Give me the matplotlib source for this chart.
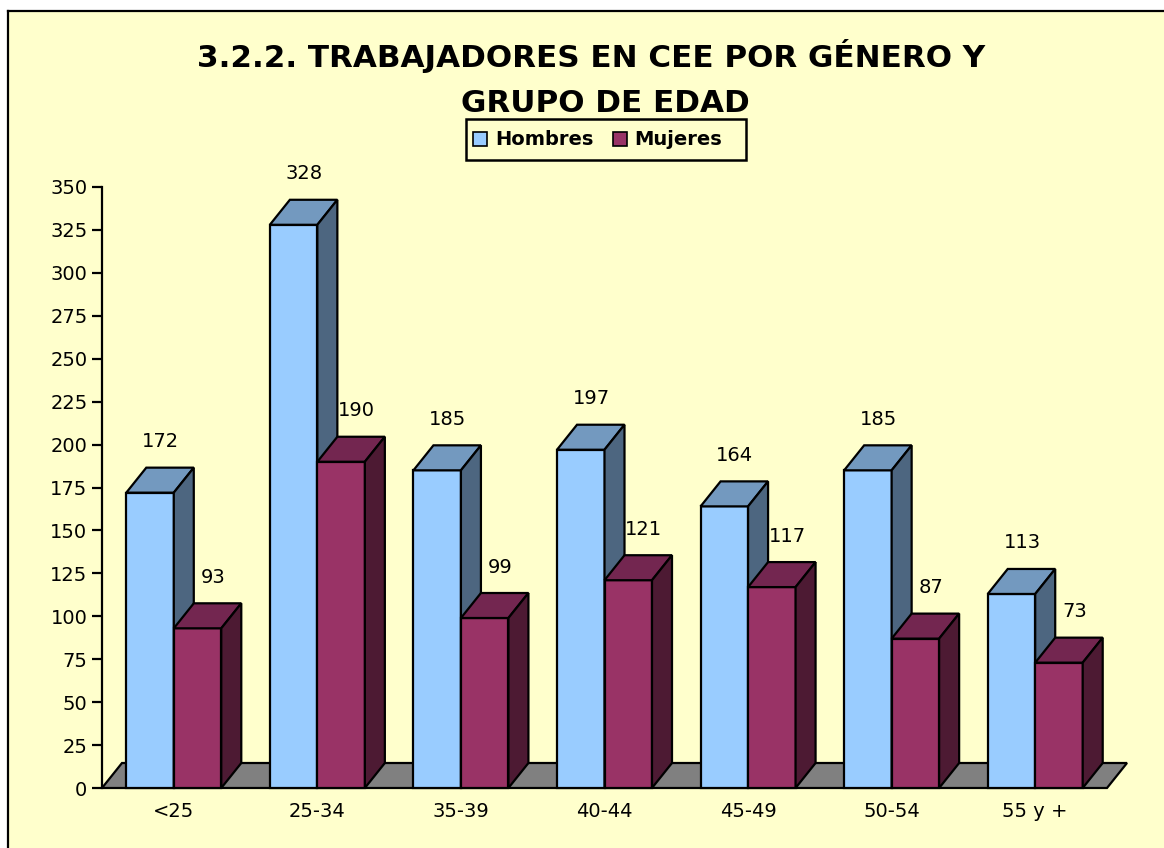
import matplotlib
matplotlib.use("Agg")
import matplotlib.pyplot as plt
from matplotlib.patches import Rectangle, Polygon
from matplotlib.lines import Line2D

categories = ['<25', '25-34', '35-39', '40-44', '45-49', '50-54', '55 y +']
hombres = [172, 328, 185, 197, 164, 185, 113]
mujeres = [93, 190, 99, 121, 117, 87, 73]
series_names = ['Hombres', 'Mujeres']
title_line1 = '3.2.2. TRABAJADORES EN CEE POR GÉNERO Y'
title_line2 = 'GRUPO DE EDAD'
yticks = list(range(0, 351, 25))

W, H = 1164, 848
BG = '#FFFFCC'
C_H = ('#99CCFF', '#7399BF', '#4D6680')   # front, top, side
C_M = ('#993366', '#732650', '#4D1A33')
FLOOR = '#808080'

fig = plt.figure(figsize=(W / 100, H / 100), dpi=100)
fig.patch.set_facecolor('white')


def fx(x):
    return x / W


def fy(y):
    return 1 - y / H


# yellow chart area with left/top frame
fig.patches.append(Rectangle((fx(8), 0), 1, fy(11), transform=fig.transFigure,
                             facecolor=BG, edgecolor='none', zorder=-2))
fig.lines.append(Line2D([fx(8), fx(8)], [0, fy(11)], transform=fig.transFigure,
                        color='black', lw=1.6, zorder=-1))
fig.lines.append(Line2D([fx(8), 1], [fy(11), fy(11)], transform=fig.transFigure,
                        color='black', lw=1.6, zorder=-1))

# plot axes
x0p, x1p, y0p, y1p = 102, 1107, 788, 187
ax = fig.add_axes([fx(x0p), fy(y0p), (x1p - x0p) / W, (y0p - y1p) / H])
ax.set_zorder(1)
ax.set_facecolor('none')
ax.set_xlim(0, len(categories))
ax.set_ylim(0, 350)
for s in ('top', 'right', 'bottom'):
    ax.spines[s].set_visible(False)
ax.spines['left'].set_linewidth(1.6)
ax.set_yticks(yticks)
ax.set_yticklabels([str(v) for v in yticks])
ax.tick_params(axis='y', length=7.5, width=1.6, pad=3, labelsize=14)
ax.set_xticks([i + 0.5 for i in range(len(categories))])
ax.set_xticklabels(categories)
ax.tick_params(axis='x', length=0, pad=10, labelsize=14)

px_per_x = (x1p - x0p) / len(categories)
px_per_y = (y0p - y1p) / 350.0
dx = 20 / px_per_x
dy = 25 / px_per_y
bw = 47.5 / px_per_x
lab_dy = 26 / px_per_y

z = 2
floor = Polygon([(0, 0), (len(categories), 0), (len(categories) + dx, dy), (dx, dy)],
                closed=True, facecolor=FLOOR, edgecolor='black', lw=1.6,
                clip_on=False, zorder=z, joinstyle='miter')
ax.add_patch(floor)


def bar3d(x, h, cols, lab_dx_px):
    global z
    z += 1
    kw = dict(edgecolor='black', lw=1.6, clip_on=False, joinstyle='miter')
    ax.add_patch(Rectangle((x, 0), bw, h, facecolor=cols[0], zorder=z, **kw))
    ax.add_patch(Polygon([(x, h), (x + bw, h), (x + bw + dx, h + dy), (x + dx, h + dy)],
                         closed=True, facecolor=cols[1], zorder=z, **kw))
    ax.add_patch(Polygon([(x + bw, 0), (x + bw + dx, dy), (x + bw + dx, h + dy), (x + bw, h)],
                         closed=True, facecolor=cols[2], zorder=z, **kw))
    ax.text(x + bw / 2 + lab_dx_px / px_per_x, h + dy + lab_dy, str(h),
            ha='center', va='center', fontsize=14, zorder=50, clip_on=False)


for i in range(len(categories)):
    c = i + 0.5
    bar3d(c - bw, hombres[i], C_H, 10.5)
    bar3d(c, mujeres[i], C_M, 15.5)

# title
fig.text(fx(591), fy(67), title_line1, ha='center', va='baseline',
         fontsize=22.3, fontweight='bold')
fig.text(fx(605), fy(112), title_line2, ha='center', va='baseline',
         fontsize=22.3, fontweight='bold')

# legend
fig.patches.append(Rectangle((fx(466), fy(160)), (746 - 466) / W, (160 - 119) / H,
                             transform=fig.transFigure, facecolor=BG,
                             edgecolor='black', lw=1.8, zorder=5))
for (xs, xt, name, cols) in [(473, 495, series_names[0], C_H),
                             (613, 634, series_names[1], C_M)]:
    fig.patches.append(Rectangle((fx(xs), fy(146)), 14 / W, 14 / H,
                                 transform=fig.transFigure, facecolor=cols[0],
                                 edgecolor='black', lw=1.2, zorder=6))
    fig.text(fx(xt), fy(139.5), name, ha='left', va='center', fontsize=14,
             fontweight='bold', zorder=7)

fig.savefig('out.png', dpi=100)
